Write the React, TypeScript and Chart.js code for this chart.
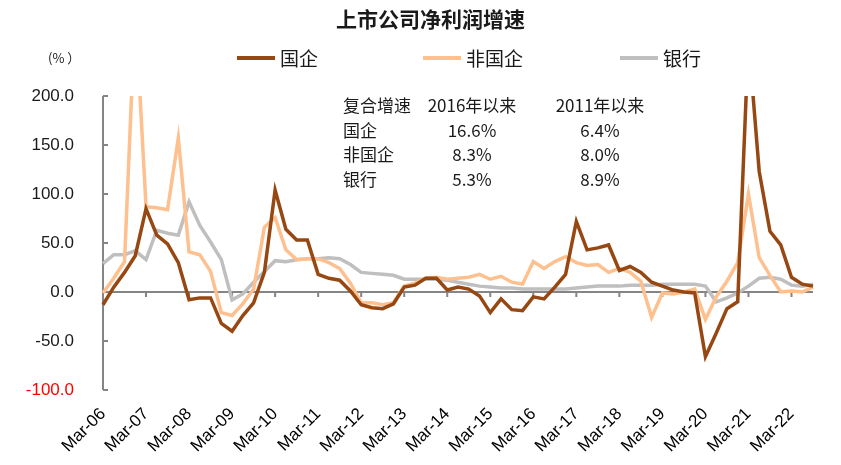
import React, { useEffect, useRef } from 'react'
import Chart from 'chart.js/auto'

// quarterly periods, Mar-06 .. Sep-22
const periods = [
  'Mar-06', 'Jun-06', 'Sep-06', 'Dec-06', 'Mar-07', 'Jun-07', 'Sep-07', 'Dec-07',
  'Mar-08', 'Jun-08', 'Sep-08', 'Dec-08', 'Mar-09', 'Jun-09', 'Sep-09', 'Dec-09',
  'Mar-10', 'Jun-10', 'Sep-10', 'Dec-10', 'Mar-11', 'Jun-11', 'Sep-11', 'Dec-11',
  'Mar-12', 'Jun-12', 'Sep-12', 'Dec-12', 'Mar-13', 'Jun-13', 'Sep-13', 'Dec-13',
  'Mar-14', 'Jun-14', 'Sep-14', 'Dec-14', 'Mar-15', 'Jun-15', 'Sep-15', 'Dec-15',
  'Mar-16', 'Jun-16', 'Sep-16', 'Dec-16', 'Mar-17', 'Jun-17', 'Sep-17', 'Dec-17',
  'Mar-18', 'Jun-18', 'Sep-18', 'Dec-18', 'Mar-19', 'Jun-19', 'Sep-19', 'Dec-19',
  'Mar-20', 'Jun-20', 'Sep-20', 'Dec-20', 'Mar-21', 'Jun-21', 'Sep-21', 'Dec-21',
  'Mar-22', 'Jun-22', 'Sep-22',
]

// 国企
const soeGrowth = [
  -13, 5, 20, 37, 85, 58, 49, 30,
  -8, -6, -6, -32, -40, -24, -11, 20,
  104, 64, 53, 53, 18, 14, 12, 1,
  -13, -16, -17, -12, 5, 7, 14, 14,
  2, 5, 3, -4, -21, -7, -18, -19,
  -5, -7, 5, 18, 72, 43, 45, 48,
  22, 26, 20, 10, 6, 2, 0, -1,
  -66, -42, -17, -10, 258, 123, 62, 48,
  15, 8, 6,
]

// 非国企
const privateGrowth = [
  -1, 14, 31, 290, 87, 86, 84, 157,
  41, 38, 21, -21, -24, -12, 3, 66,
  76, 43, 33, 34, 34, 30, 24, 9,
  -11, -11, -13, -11, 6, 9, 14, 15,
  13, 14, 15, 18, 13, 16, 10, 8,
  31, 24, 31, 36, 30, 27, 28, 20,
  24, 20, 11, -26, -1, -2, 0, 3,
  -28, -5, 11, 30, 100, 35, 17, 0,
  1, 0, 5,
]

// 银行
const bankGrowth = [
  29, 38, 38, 42, 33, 63, 60, 58,
  92, 68, 51, 33, -8, -2, 10, 21,
  32, 31, 33, 34, 34, 35, 34, 28,
  20, 19, 18, 17, 13, 13, 13, 13,
  12, 10, 8, 6, 5, 4, 4, 3,
  3, 3, 3, 3, 4, 5, 6, 6,
  6, 7, 7, 7, 8, 8, 8, 8,
  6, -10, -6, -1, 6, 14, 15, 13,
  7, 6, 8,
]

const seriesNames = ['国企', '非国企', '银行']
const seriesColors = ['#974711', '#FDC08E', '#BFBFBF']

// compound growth table
const tableHeader = ['复合增速', '2016年以来', '2011年以来']
const tableRows = [
  ['国企', '16.6%', '6.4%'],
  ['非国企', '8.3%', '8.0%'],
  ['银行', '5.3%', '8.9%'],
]

const axisGray = '#858585'

// axis line, inward y ticks, zero line with downward year ticks
const axisDecor = {
  id: 'axisDecor',
  beforeDatasetsDraw(chart: any) {
    const { ctx, chartArea, scales } = chart
    const { left, right, top, bottom } = chartArea
    const y0 = scales.y.getPixelForValue(0)
    ctx.save()
    ctx.strokeStyle = axisGray
    ctx.lineWidth = 2
    ctx.beginPath()
    ctx.moveTo(left, top)
    ctx.lineTo(left, bottom)
    scales.y.ticks.forEach((t: any) => {
      const py = scales.y.getPixelForValue(t.value)
      ctx.moveTo(left, py)
      ctx.lineTo(left + 5, py)
    })
    ctx.moveTo(left, y0)
    ctx.lineTo(right, y0)
    periods.forEach((p, i) => {
      if (!p.startsWith('Mar')) return
      const px = scales.x.getPixelForValue(i)
      ctx.moveTo(px, y0)
      ctx.lineTo(px, y0 + 5)
    })
    ctx.stroke()
    ctx.restore()
  },
}

const cjk = '"Noto Sans CJK SC", "Noto Sans", sans-serif'
const latin = '"Liberation Sans", Arial, sans-serif'

const App = () => {
  const chartRef = useRef<HTMLCanvasElement>(null)

  useEffect(() => {
    if (!chartRef.current) return
    const ctx = chartRef.current.getContext('2d')
    if (!ctx) return

    const values = [soeGrowth, privateGrowth, bankGrowth]
    const chart = new Chart(ctx, {
      type: 'line',
      data: {
        labels: periods,
        datasets: values.map((v, k) => ({
          label: seriesNames[k],
          data: v,
          borderColor: seriesColors[k],
          backgroundColor: seriesColors[k],
          borderWidth: 3.5,
          pointRadius: 0,
          tension: 0,
          fill: false,
          clip: { left: 4, right: 4, top: 0, bottom: 4 },
        })),
      },
      options: {
        responsive: false,
        animation: false,
        layout: { padding: { left: 0, right: 28, top: 96, bottom: 0 } },
        plugins: {
          legend: { display: false },
          tooltip: { enabled: false },
        },
        scales: {
          x: {
            type: 'category',
            offset: false,
            grid: { display: false },
            border: { display: false },
            afterFit: (scale: any) => {
              scale.height = 75
            },
            ticks: {
              autoSkip: false,
              maxRotation: 45,
              minRotation: 45,
              padding: 6,
              color: '#000',
              font: { size: 17, family: latin },
              callback: (_v: any, i: number) => (periods[i].startsWith('Mar') ? periods[i] : ''),
            },
          },
          y: {
            min: -100,
            max: 200,
            grid: { display: false },
            border: { display: false },
            afterFit: (scale: any) => {
              scale.width = 103
            },
            ticks: {
              stepSize: 50,
              padding: 21,
              font: { size: 17, family: latin },
              color: (c: any) => (c.tick && c.tick.value === -100 ? '#FF0000' : '#1A1A1A'),
              callback: (v: any) => Number(v).toFixed(1),
            },
          },
        },
      },
      plugins: [axisDecor],
    })

    return () => {
      chart.destroy()
    }
  }, [])

  const legendX = [237, 423, 620]

  return (
    <div
      style={{
        position: 'absolute',
        left: 0,
        top: 0,
        width: 841,
        height: 465,
        background: '#fff',
        fontFamily: cjk,
        color: '#1A1A1A',
      }}
    >
      <canvas ref={chartRef} width={841} height={465} style={{ position: 'absolute', left: 0, top: 0 }}></canvas>

      <div style={{ position: 'absolute', left: 336, top: 5, fontSize: 21, fontWeight: 'bold', lineHeight: '26px', whiteSpace: 'nowrap' }}>
        上市公司净利润增速
      </div>

      <div style={{ position: 'absolute', left: 48, top: 49, fontSize: 13, lineHeight: '18px', whiteSpace: 'nowrap' }}>(%&nbsp;）</div>

      {seriesNames.map((n, k) => (
        <div key={n} style={{ position: 'absolute', left: legendX[k], top: 46, height: 24, display: 'flex', alignItems: 'center', whiteSpace: 'nowrap' }}>
          <span style={{ display: 'inline-block', width: 38, height: 4, background: seriesColors[k], marginRight: 5 }}></span>
          <span style={{ fontSize: 19, lineHeight: '24px' }}>{n}</span>
        </div>
      ))}

      {[tableHeader, ...tableRows].map((row, r) => (
        <div key={r} style={{ position: 'absolute', top: 93 + r * 24.7, left: 0, height: 24, fontSize: 17, lineHeight: '24px' }}>
          <span style={{ position: 'absolute', left: 343, whiteSpace: 'nowrap' }}>{row[0]}</span>
          <span style={{ position: 'absolute', left: 420, width: 104, textAlign: 'center', whiteSpace: 'nowrap' }}>{row[1]}</span>
          <span style={{ position: 'absolute', left: 548, width: 104, textAlign: 'center', whiteSpace: 'nowrap' }}>{row[2]}</span>
        </div>
      ))}
    </div>
  )
}

export default App
